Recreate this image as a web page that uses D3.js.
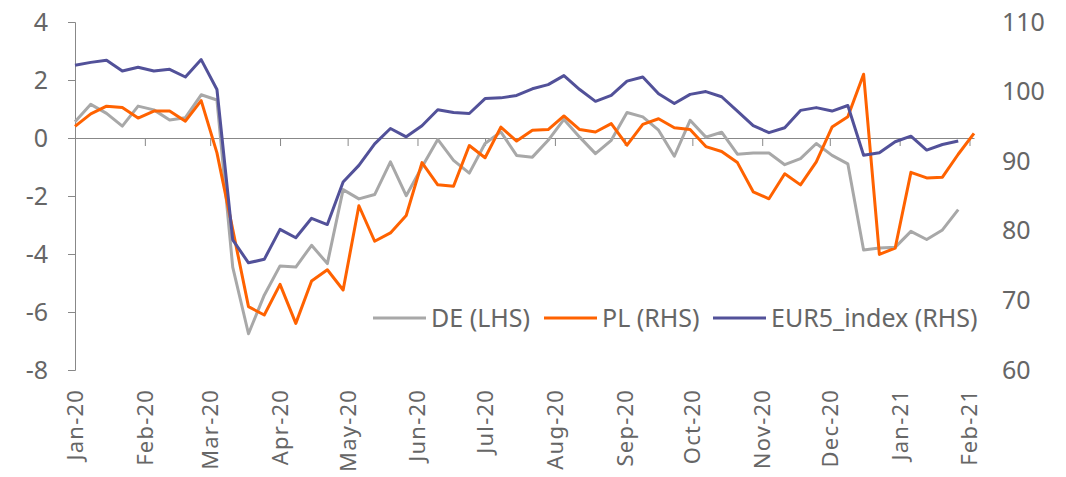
<!DOCTYPE html>
<html>
<head>
<meta charset="utf-8">
<script src="https://d3js.org/d3.v7.min.js"></script>
<style>
  body { margin: 0; background: #fff; }
  .axes-font text { font-family: "Noto Sans", sans-serif; font-size: 25px; fill: #666; }
  .month-font text { font-family: "Noto Sans", sans-serif; font-size: 22px; fill: #666; letter-spacing: 1.2px; }
  .legend-font { font-family: "Noto Sans", sans-serif; font-size: 25px; fill: #666; }
</style>
</head>
<body>
<div id="vis1"></div>
<script>
const FRAME_HEIGHT = 477;
const FRAME_WIDTH = 1066;
const MARGINS = {left: 75, right: 92, top: 22, bottom: 107};

const VIS_HEIGHT = FRAME_HEIGHT - MARGINS.top - MARGINS.bottom;
const VIS_WIDTH = FRAME_WIDTH - MARGINS.left - MARGINS.right;

// weekly observations, first one on 1 Jan 2020
const START_DATE = new Date(2020, 0, 1);
const END_DATE = new Date(2021, 1, 3);

const DE = [0.56, 1.16, 0.85, 0.41, 1.1, 0.97, 0.62, 0.70, 1.49, 1.31,
  -4.45, -6.75, -5.42, -4.41, -4.45, -3.70, -4.33, -1.78, -2.1, -1.95,
  -0.82, -1.99, -1.0, -0.05, -0.77, -1.21, -0.19, 0.21, -0.60, -0.66,
  -0.08, 0.64, 0.03, -0.54, -0.08, 0.88, 0.73, 0.27, -0.63, 0.61,
  0.03, 0.20, -0.56, -0.52, -0.52, -0.92, -0.71, -0.19, -0.60, -0.89,
  -3.86, -3.79, -3.77, -3.22, -3.50, -3.17, -2.47];

const PL = [95.0, 96.8, 97.9, 97.7, 96.2, 97.2, 97.2, 95.75, 98.7, 91.2,
  80.2, 69.1, 67.9, 72.3, 66.7, 72.8, 74.4, 71.5, 83.6, 78.5,
  79.7, 82.2, 89.8, 86.6, 86.4, 92.25, 90.5, 94.9, 92.9, 94.45,
  94.55, 96.5, 94.55, 94.2, 95.4, 92.3, 95.3, 96.1, 94.8, 94.55,
  92.1, 91.4, 89.8, 85.6, 84.6, 88.2, 86.6, 89.9, 94.9, 96.4,
  102.5, 76.6, 77.5, 88.4, 87.6, 87.7, 91.0, 94.0];

const EUR5 = [103.8, 104.2, 104.5, 102.95, 103.5, 102.95, 103.2, 102.1, 104.6, 100.3,
  78.7, 75.4, 75.9, 80.2, 79.0, 81.8, 80.9, 87.0, 89.4, 92.5,
  94.7, 93.5, 95.1, 97.4, 97.0, 96.85, 99.0, 99.1, 99.45, 100.4,
  101.0, 102.3, 100.3, 98.6, 99.45, 101.5, 102.1, 99.7, 98.3, 99.6,
  100.0, 99.26, 97.2, 95.1, 94.1, 94.8, 97.3, 97.7, 97.2, 98.0,
  90.85, 91.2, 92.8, 93.6, 91.6, 92.4, 92.9];

const LEFT_TICKS = [-8, -6, -4, -2, 0, 2, 4];
const RIGHT_TICKS = [60, 70, 80, 90, 100, 110];
const LEGEND_LABELS = ["DE (LHS)", "PL (RHS)", "EUR5_index (RHS)"];
const COLORS = ["#a8a8a8", "#ff6200", "#525199"];

function weekDate(i) {
  return d3.timeDay.offset(START_DATE, 7 * i);
}

const FRAME1 = d3.select("#vis1")
                  .append("svg")
                  .attr("height", FRAME_HEIGHT)
                  .attr("width", FRAME_WIDTH)
                  .attr("class", "frame");

function build_line_chart() {
  const X_Scale = d3.scaleTime()
                    .domain([START_DATE, END_DATE])
                    .range([MARGINS.left, MARGINS.left + VIS_WIDTH]);
  const Y_Left = d3.scaleLinear()
                    .domain([-8, 4])
                    .range([MARGINS.top + VIS_HEIGHT, MARGINS.top]);
  const Y_Right = d3.scaleLinear()
                    .domain([60, 110])
                    .range([MARGINS.top + VIS_HEIGHT, MARGINS.top]);

  // left axis (plain hyphen for negatives, like the original)
  const leftAxis = FRAME1.append("g")
        .attr("transform", "translate(" + MARGINS.left + ",0)")
        .call(d3.axisLeft(Y_Left).tickValues(LEFT_TICKS).tickSize(7).tickPadding(20)
                .tickFormat((d) => String(d)))
        .attr("class", "axes-font");
  leftAxis.selectAll("path, line").attr("stroke", "#888");

  // right axis, labels only
  const rightAxis = FRAME1.append("g")
        .attr("transform", "translate(" + (MARGINS.left + VIS_WIDTH) + ",0)")
        .call(d3.axisRight(Y_Right).tickValues(RIGHT_TICKS).tickSize(0).tickPadding(28))
        .attr("class", "axes-font");
  rightAxis.select(".domain").remove();

  // zero line with month ticks
  const months = d3.timeMonth.range(START_DATE, d3.timeDay.offset(END_DATE, 1));
  const zeroAxis = FRAME1.append("g")
        .attr("transform", "translate(0," + Y_Left(0) + ")")
        .call(d3.axisBottom(X_Scale).tickValues(months).tickSize(8).tickFormat("").tickSizeOuter(0));
  zeroAxis.selectAll("path, line").attr("stroke", "#888");

  // month labels at the bottom, rotated
  const fmt = d3.timeFormat("%b-%y");
  FRAME1.append("g")
        .attr("class", "month-font")
        .selectAll("text")
        .data(months)
        .enter().append("text")
        .attr("transform", (d) => "translate(" + (X_Scale(d) + 8) + "," + (MARGINS.top + VIS_HEIGHT + 19) + ") rotate(-90)")
        .attr("text-anchor", "end")
        .text((d) => fmt(d));

  // lines
  const series = [
    {vals: DE, y: Y_Left},
    {vals: PL, y: Y_Right},
    {vals: EUR5, y: Y_Right}
  ];
  series.forEach((s, i) => {
    const line = d3.line()
                   .x((d, j) => X_Scale(weekDate(j)))
                   .y((d) => s.y(d));
    FRAME1.append("path")
          .datum(s.vals)
          .attr("fill", "none")
          .attr("stroke", COLORS[i])
          .attr("stroke-width", 3)
          .attr("stroke-linejoin", "round")
          .attr("d", line);
  });

  // legend
  const LEGEND_X = [373, 544, 713];
  const LEGEND_Y = 318;
  LEGEND_LABELS.forEach((lab, i) => {
    FRAME1.append("line")
          .attr("x1", LEGEND_X[i]).attr("x2", LEGEND_X[i] + 53)
          .attr("y1", LEGEND_Y).attr("y2", LEGEND_Y)
          .attr("stroke", COLORS[i])
          .attr("stroke-width", 3);
    FRAME1.append("text")
          .attr("class", "legend-font")
          .attr("x", LEGEND_X[i] + 58)
          .attr("y", LEGEND_Y)
          .attr("dy", "0.35em")
          .text(lab);
  });
}

build_line_chart();
</script>
</body>
</html>
